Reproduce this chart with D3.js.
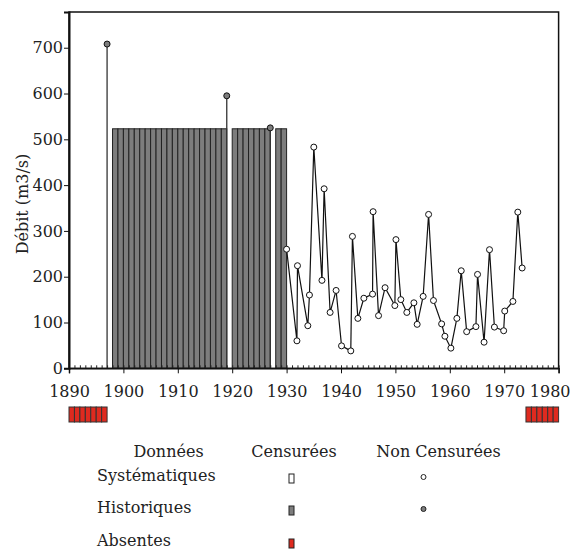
<!DOCTYPE html>
<html><head><meta charset="utf-8">
<script src="https://cdn.jsdelivr.net/npm/d3@7"></script>
<style>body{margin:0;background:#fff} text{font-family:"DejaVu Serif",serif;fill:#222}</style>
</head><body><svg id="c" width="574" height="549"></svg>
<script>
// Systematic (non-censored) observations
const sysYears = [1930.0,1931.9,1932.0,1933.9,1934.2,1935.0,1936.5,1936.9,1938.0,1939.1,1940.1,1941.8,1942.1,1943.1,1944.2,1945.8,1945.9,1946.9,1948.1,1949.9,1950.1,1951.0,1952.1,1953.4,1954.0,1955.1,1956.1,1957.0,1958.5,1959.1,1960.2,1961.3,1962.1,1963.1,1964.8,1965.1,1966.3,1967.3,1968.2,1969.9,1970.1,1971.6,1972.5,1973.3];
const sysFlows = [260,60,224,93,160,483,192,392,122,170,49,38,288,109,153,162,342,115,176,137,281,150,122,143,96,157,336,148,97,70,44,109,213,80,91,205,57,259,90,82,125,146,341,219];
// Historical (non-censored) floods
const histYears = [1897, 1919, 1927];
const histFlows = [708, 595, 525];
// Historical censored years (flow below threshold)
const censHistYears = [1898,1899,1900,1901,1902,1903,1904,1905,1906,1907,1908,1909,1910,1911,1912,1913,1914,1915,1916,1917,1918,1920,1921,1922,1923,1924,1925,1926,1928,1929];
const censHistThreshold = 523;
// Missing years
const absentYears = [1890,1891,1892,1893,1894,1895,1896,1974,1975,1976,1977,1978,1979];
const xTicks = [1890,1900,1910,1920,1930,1940,1950,1960,1970,1980];
const yTicks = [0,100,200,300,400,500,600,700];
const legendHeads = ["Données","Censurées","Non Censurées"];
const legendRows = ["Systématiques","Historiques","Absentes"];
const yLabel = "Débit (m3/s)";

const svg = d3.select("#c");
const x = d3.scaleLinear().domain([1890,1980]).range([69,558.6]);
const y = d3.scaleLinear().domain([0,778]).range([368.3,12]);
const grey = "#7d7d7d", red = "#df2a1f";

// censored historical bars
svg.append("g").selectAll("rect").data(censHistYears).join("rect")
  .attr("x", d=>x(d)).attr("width", d=>x(d+1)-x(d))
  .attr("y", y(censHistThreshold)).attr("height", y(0)-y(censHistThreshold))
  .attr("fill", grey).attr("stroke", "#222").attr("stroke-width", 1);

// stems for historical floods
svg.append("g").selectAll("line").data(histYears).join("line")
  .attr("x1", d=>x(d)).attr("x2", d=>x(d))
  .attr("y1", (d,i)=>y(histFlows[i])).attr("y2", y(0))
  .attr("stroke", "#333").attr("stroke-width", 1.3);

// systematic line
const pts = sysYears.map((d,i)=>[d, sysFlows[i]]);
svg.append("path").datum(pts)
  .attr("d", d3.line().x(d=>x(d[0])).y(d=>y(d[1])))
  .attr("fill","none").attr("stroke","#111").attr("stroke-width",1.2);

svg.append("g").selectAll("circle").data(pts).join("circle")
  .attr("cx", d=>x(d[0])).attr("cy", d=>y(d[1])).attr("r", 3)
  .attr("fill","#fff").attr("stroke","#111").attr("stroke-width",1);

svg.append("g").selectAll("circle").data(histYears).join("circle")
  .attr("cx", d=>x(d)).attr("cy", (d,i)=>y(histFlows[i])).attr("r", 3)
  .attr("fill", grey).attr("stroke","#111").attr("stroke-width",1);

// absent years
svg.append("g").selectAll("rect").data(absentYears).join("rect")
  .attr("x", d=>x(d)).attr("width", d=>x(d+1)-x(d))
  .attr("y", 407).attr("height", 15)
  .attr("fill", red).attr("stroke", "#333").attr("stroke-width", 1);

// frame
svg.append("rect").attr("x", 69).attr("y", 12).attr("width", 558.6-69).attr("height", 368.3-12)
  .attr("fill","none").attr("stroke","#111").attr("stroke-width",1.5);

// minor x ticks (inside)
const minor = svg.append("g").attr("transform", `translate(0,${y(0)})`)
  .call(d3.axisBottom(x).tickValues(d3.range(1890,1981)).tickSize(-3).tickFormat(""));
minor.select(".domain").remove();
minor.selectAll("line").attr("stroke","#222");

const xa = svg.append("g").attr("transform", `translate(0,${y(0)})`)
  .call(d3.axisBottom(x).tickValues(xTicks).tickSize(5).tickPadding(12).tickFormat(d3.format("d")));
xa.select(".domain").attr("stroke","#111").attr("stroke-width",1.5);
xa.selectAll("line").attr("stroke","#111");
xa.selectAll("text").attr("font-size",16).attr("font-family","DejaVu Serif").attr("fill","#222")
  .filter(d=>d===1980).attr("text-anchor","end").attr("dx", 570-x(1980));

const ya = svg.append("g").attr("transform", `translate(69,0)`)
  .call(d3.axisLeft(y).tickValues(yTicks).tickSize(5).tickPadding(1));
ya.select(".domain").attr("stroke","#111").attr("stroke-width",2);
ya.selectAll("line").attr("stroke","#111");
ya.selectAll("text").attr("font-size",16).attr("font-family","DejaVu Serif").attr("fill","#222");

svg.append("text").attr("transform","translate(28,204) rotate(-90)")
  .attr("text-anchor","middle").attr("font-size",16).text(yLabel);

// legend
const headX = [168.5, 294, 438.5];
svg.append("g").selectAll("text").data(legendHeads).join("text")
  .attr("x",(d,i)=>headX[i]).attr("y",457).attr("text-anchor","middle").attr("font-size",16).text(d=>d);
const rowY = [481, 513, 546];
svg.append("g").selectAll("text").data(legendRows).join("text")
  .attr("x",97).attr("y",(d,i)=>rowY[i]).attr("font-size",16).text(d=>d);
const rectFill = ["#fff", grey, red];
svg.append("g").selectAll("rect").data(legendRows).join("rect")
  .attr("x",289).attr("y",(d,i)=>rowY[i]-7).attr("width",5).attr("height",9)
  .attr("fill",(d,i)=>rectFill[i]).attr("stroke","#222").attr("stroke-width",1);
const circFill = ["#fff", grey];
svg.append("g").selectAll("circle").data(circFill).join("circle")
  .attr("cx",423.5).attr("cy",(d,i)=>rowY[i]-4).attr("r",2.5)
  .attr("fill",d=>d).attr("stroke","#222").attr("stroke-width",1);
</script></body></html>
